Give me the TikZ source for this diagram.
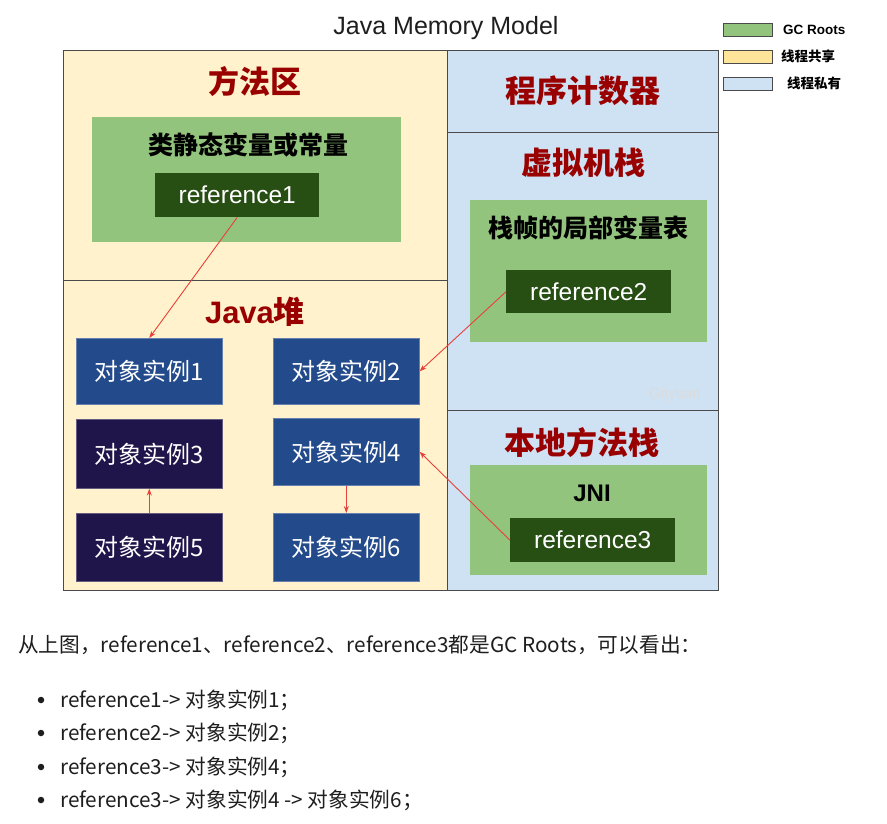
\documentclass[tikz,border=0pt]{standalone}
\usepackage{fontspec}
\setmainfont{Liberation Sans}
\newfontfamily\cjk{Noto Sans CJK SC}
\usetikzlibrary{arrows.meta}
\definecolor{cream}{HTML}{FFF2CC}
\definecolor{lyellow}{HTML}{FFE599}
\definecolor{lblue}{HTML}{CFE2F3}
\definecolor{ggreen}{HTML}{93C47D}
\definecolor{dgreen}{HTML}{274E13}
\definecolor{oblue}{HTML}{234A8B}
\definecolor{onavy}{HTML}{20154A}
\definecolor{hred}{HTML}{990000}
\definecolor{arred}{HTML}{E8403A}
\definecolor{frame}{HTML}{4A4A4A}
\definecolor{txt}{HTML}{1E1E1E}
\begin{document}
\begin{tikzpicture}[x=1pt,y=-1pt,
  region/.style={draw=frame,line width=1.2pt,inner sep=0,anchor=north west},
  gbox/.style={fill=ggreen,inner sep=0,anchor=north west},
  refbox/.style={fill=dgreen,text=white,inner sep=0,anchor=north west,font=\fontsize{24.5}{28}\selectfont},
  objbox/.style={fill=oblue,draw=oblue!70!white,line width=0.6pt,text=white,inner sep=0,anchor=north west,minimum width=146,font=\cjk\fontsize{24}{28}\selectfont},
  navybox/.style={objbox,fill=onavy,draw=onavy!70!white},
  header/.style={text=hred,font=\cjk\bfseries\fontsize{31}{35}\selectfont,inner sep=0},
  subheader/.style={text=black,font=\cjk\bfseries\fontsize{25}{29}\selectfont,inner sep=0},
  legbox/.style={draw=frame,line width=0.8pt,inner sep=0,anchor=north west,minimum width=49,minimum height=13},
  legtxt/.style={anchor=west,inner sep=0,font=\cjk\bfseries\fontsize{13.5}{16}\selectfont},
  arr/.style={draw=arred,line width=0.9pt,-{Stealth[length=7pt,width=5pt]}},
  body/.style={anchor=west,inner sep=0,text=txt,font=\cjk\fontsize{20.7}{24}\selectfont},
  dot/.style={circle,fill=txt,inner sep=0,minimum size=6.5}]
\useasboundingbox (0,0) rectangle (887,823);
\fill[white] (0,0) rectangle (887,823);
% title
\node[inner sep=0,text=txt,font=\fontsize{25}{29}\selectfont] (title) at (446,28) {Java Memory Model};
% legend
\node[legbox,fill=ggreen] (lg1) at (723,23) {};
\node[legbox,fill=lyellow] (lg2) at (723,50) {};
\node[legbox,fill=lblue] (lg3) at (723,77) {};
\node[legtxt] (lt1) at (783,29.5) {\fontspec{Liberation Sans}\bfseries GC Roots};
\node[legtxt] (lt2) at (781,56.5) {线程共享};
\node[legtxt] (lt3) at (787,83.5) {线程私有};
% regions
\node[region,fill=cream,minimum width=384,minimum height=230] (ma) at (63,50) {};
\node[region,fill=cream,minimum width=384,minimum height=310] (heap) at (63,280) {};
\node[region,fill=lblue,minimum width=271,minimum height=82] (pc) at (447,50) {};
\node[region,fill=lblue,minimum width=271,minimum height=278] (vms) at (447,132) {};
\node[region,fill=lblue,minimum width=271,minimum height=180] (nms) at (447,410) {};
% headers
\node[header] (h1) at (255,82) {方法区};
\node[header] (h2) at (583,91) {程序计数器};
\node[header] (h3) at (583,163) {虚拟机栈};
\node[header] (h4) at (582,443) {本地方法栈};
\node[header,font=\bfseries\fontsize{31}{35}\selectfont] (h5) at (255,312) {Java{\cjk 堆}};
% method area
\node[gbox,minimum width=309,minimum height=125] (g1) at (92,117) {};
\node[subheader] (s1) at (248,145) {类静态变量或常量};
\node[refbox,minimum width=164,minimum height=44] (r1) at (155,173) {reference1};
% VM stack
\node[gbox,minimum width=237,minimum height=142] (g2) at (470,200) {};
\node[subheader] (s2) at (588,228) {栈帧的局部变量表};
\node[refbox,minimum width=165,minimum height=43] (r2) at (506,270) {reference2};
\node[inner sep=0,text=black!14,font=\fontsize{15}{18}\selectfont] (wm) at (675,395) {Gityuan};
% native
\node[gbox,minimum width=237,minimum height=110] (g3) at (470,465) {};
\node[subheader,font=\bfseries\fontsize{24}{28}\selectfont] (s3) at (592,493) {JNI};
\node[refbox,minimum width=165,minimum height=44] (r3) at (510,518) {reference3};
% objects
\node[objbox,minimum height=66] (o1) at (76,338) {对象实例1};
\node[objbox,minimum height=66] (o2) at (273,338) {对象实例2};
\node[navybox,minimum height=69] (o3) at (76,419) {对象实例3};
\node[objbox,minimum height=67] (o4) at (273,418) {对象实例4};
\node[navybox,minimum height=68] (o5) at (76,513) {对象实例5};
\node[objbox,minimum height=68] (o6) at (273,513) {对象实例6};
% arrows
\draw[arr] (r1.south) -- (o1.north);
\draw[arr] (r2.west) -- (o2.east);
\draw[arr] (r3.west) -- (o4.east);
\draw[arr] (o5.north) -- (o3.south);
\draw[arr] (o4.south) -- (o6.north);
% text below
\node[body] (p0) at (18,645) {从上图，reference1、reference2、reference3都是GC Roots，可以看出：};
\node[dot] (d1) at (41,700) {};
\node[dot] (d2) at (41,733) {};
\node[dot] (d3) at (41,767) {};
\node[dot] (d4) at (41,800) {};
\node[body] (p1) at (60,700) {reference1-> 对象实例1；};
\node[body] (p2) at (60,733) {reference2-> 对象实例2；};
\node[body] (p3) at (60,767) {reference3-> 对象实例4；};
\node[body] (p4) at (60,800) {reference3-> 对象实例4 -> 对象实例6；};
\end{tikzpicture}
\end{document}
